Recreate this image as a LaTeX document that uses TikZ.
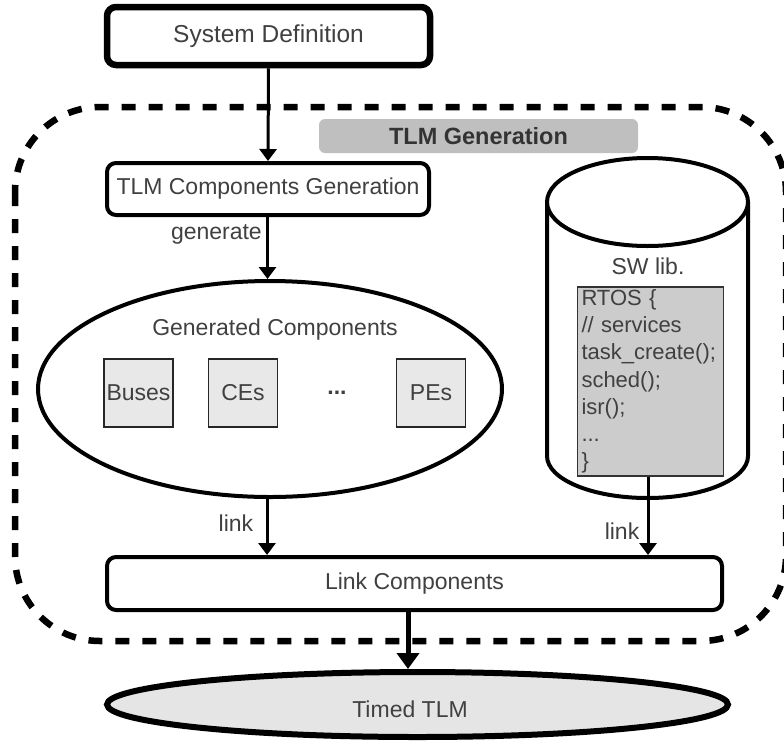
\documentclass[tikz,border=0pt]{standalone}
\usepackage{fontspec}
\setmainfont{Liberation Sans}
\usetikzlibrary{arrows.meta,shapes.geometric}
\definecolor{txt}{gray}{0.25}
\begin{document}
\begin{tikzpicture}[x=1pt,y=-1pt,
  every node/.style={text=txt, font=\fontsize{23}{27}\selectfont, inner sep=0pt},
  procbox/.style={draw=black, rounded corners=9pt, line width=4pt, fill=white},
  compbox/.style={draw=black!85, line width=1.8pt, fill=black!9,
                  minimum width=69pt, minimum height=68pt},
  codebox/.style={draw=black!80, line width=1.5pt, fill=black!20,
                  minimum width=146pt, minimum height=189pt, text width=138pt,
                  align=left, inner xsep=4pt, font=\fontsize{22}{27.2}\selectfont},
  region/.style={line width=6.5pt, dash pattern=on 14pt off 13pt, rounded corners=85pt},
  flow/.style={line width=3pt, -{Triangle[width=17pt,length=12pt]}},
  bigflow/.style={line width=5pt, -{Triangle[width=22pt,length=16pt]}},
  lbl/.style={font=\fontsize{23}{27}\selectfont}
]
\useasboundingbox (0,0) rectangle (784,745);
\clip (0,0) rectangle (784,745);

% dashed frame of the generation stage
\draw[region] (15,107) rectangle (786,641);
\node[fill=black!25, rounded corners=6pt, minimum width=319pt, minimum height=34pt,
      text=black!80, font=\fontsize{23.5}{27}\selectfont\bfseries] (stage) at (478.5,136) {TLM Generation};

% main flow
\node[procbox, line width=6.5pt, minimum width=323pt, minimum height=58pt,
      font=\fontsize{24.5}{28}\selectfont] (sysdef) at (268.5,36) {System Definition};
\node[procbox, minimum width=322pt, minimum height=52pt] (tlmgen) at (268,189) {TLM Components Generation};

% generated components
\node[ellipse, draw=black, line width=4pt, minimum width=464pt, minimum height=216pt] (gen) at (270,389) {};
\node (gentitle) at (275,330) {Generated Components};
\node[compbox] (buses) at (138.5,393) {Buses};
\node[compbox] (ces) at (243,393) {CEs};
\node (dots) at (337,393) {\textbf{...}};
\node[compbox] (pes) at (431,393) {PEs};

% software library cylinder
\draw[line width=4pt] (547,202) -- (547,456)
   arc[start angle=180, end angle=360, x radius=100.5pt, y radius=42pt] -- (748,202);
\draw[line width=4pt, fill=white] (647.5,202) ellipse [x radius=100.5pt, y radius=44pt];
\node (swlib) at (648,266) {SW lib.};
\node[codebox] (code) at (650.5,381.5) {RTOS \{\\// services\\task\_create();\\sched();\\isr();\\...\\\}};

% linking
\node[procbox, minimum width=615pt, minimum height=53pt] (link) at (414.5,583.5) {Link Components};
\node[ellipse, draw=black, line width=6pt, fill=black!10, minimum width=621pt, minimum height=65pt] (timed) at (417.5,704.5) {};
\node (timedtxt) at (410,709) {Timed TLM};

% connectors
\draw[flow] (sysdef.south) -- (tlmgen.north);
\draw[flow] ([xshift=-0.5pt]tlmgen.south) -- ([xshift=-0.5pt]tlmgen.south |- gen.north);
\node[anchor=east] (genlbl) at (262,234) {generate};
\draw[flow] ([xshift=-3pt]gen.south) -- ([xshift=-3pt]gen.south |- link.north);
\node (linkl) at (236,523) {link};
\draw[flow] ([xshift=-2.5pt]code.south) -- ([xshift=-2.5pt]code.south |- link.north);
\node (linkr) at (622,531) {link};
\draw[bigflow] ([xshift=-6.5pt]link.south) -- ([xshift=-6.5pt]link.south |- timed.north);
\end{tikzpicture}
\end{document}
